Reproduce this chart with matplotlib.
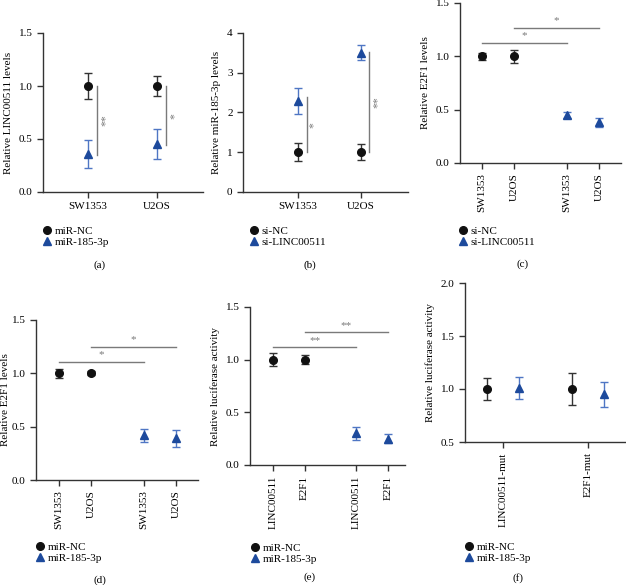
import numpy as np
import matplotlib
matplotlib.use("Agg")
import matplotlib.pyplot as plt
from matplotlib.lines import Line2D

plt.rcParams["font.family"] = ["Liberation Serif", "DejaVu Serif"]

W, H = 626, 585
BLACK = "#111111"
BLUE = "#1d4a9c"
BLUE_ERR = "#4f76c4"
GREY = "#7a7a7a"

# (a) LINC00511 levels
A_CATS = ["SW1353", "U2OS"]
A_NC = [1.0, 1.0]
A_NC_ERR = [0.12, 0.09]
A_MIR = [0.36, 0.45]
A_MIR_ERR = [0.13, 0.14]

# (b) miR-185-3p levels
B_CATS = ["SW1353", "U2OS"]
B_NC = [1.0, 1.0]
B_NC_ERR = [0.23, 0.20]
B_SI = [2.28, 3.50]
B_SI_ERR = [0.33, 0.19]

# (c) E2F1 levels, si
C_CATS = ["SW1353", "U2OS", "SW1353", "U2OS"]
C_NC = [1.0, 1.0]
C_NC_ERR = [0.03, 0.06]
C_SI = [0.45, 0.38]
C_SI_ERR = [0.03, 0.04]

# (d) E2F1 levels, miR
D_CATS = ["SW1353", "U2OS", "SW1353", "U2OS"]
D_NC = [1.0, 1.0]
D_NC_ERR = [0.04, 0.02]
D_MIR = [0.42, 0.39]
D_MIR_ERR = [0.06, 0.08]

# (e) luciferase activity
E_CATS = ["LINC00511", "E2F1", "LINC00511", "E2F1"]
E_NC = [1.0, 1.0]
E_NC_ERR = [0.06, 0.04]
E_MIR = [0.30, 0.25]
E_MIR_ERR = [0.065, 0.04]

# (f) luciferase activity, mutants
F_CATS = ["LINC00511-mut", "E2F1-mut"]
F_NC = [1.0, 1.0]
F_NC_ERR = [0.10, 0.15]
F_MIR = [1.01, 0.95]
F_MIR_ERR = [0.10, 0.12]


def make_ax(fig, left, right, top, bottom):
    ax = fig.add_axes([left / W, 1 - bottom / H, (right - left) / W, (bottom - top) / H])
    ax.spines["top"].set_visible(False)
    ax.spines["right"].set_visible(False)
    for s in ("left", "bottom"):
        ax.spines[s].set_linewidth(1.0)
        ax.spines[s].set_color("#333333")
    ax.tick_params(labelsize=8, width=1.0, length=4, color="#333333")
    return ax


def pts(ax, x, y, err, kind):
    if kind == "nc":
        ax.errorbar(x, y, yerr=err, fmt="o", color=BLACK, ecolor="#333333",
                    markersize=5.5, capsize=3, elinewidth=1, capthick=1, zorder=3)
    else:
        ax.errorbar(x, y, yerr=err, fmt="^", color=BLUE, ecolor=BLUE_ERR,
                    markersize=5.5, capsize=3, elinewidth=1, capthick=1, zorder=3)


def legend(fig, x, y, labels):
    handles = [Line2D([], [], marker="o", color=BLACK, ls="none", markersize=5.5),
               Line2D([], [], marker="^", color=BLUE, ls="none", markersize=5.5)]
    fig.legend(handles, labels, loc="upper left", bbox_to_anchor=(x / W, 1 - y / H),
               frameon=False, fontsize=8, handletextpad=0.1, labelspacing=0.15,
               borderpad=0, borderaxespad=0, handlelength=1.2)


def hbar(ax, x0, x1, y, star, dy):
    ax.plot([x0, x1], [y, y], color=GREY, lw=1)
    ax.text((x0 + x1) / 2, y + dy, star, ha="center", va="center", color=GREY, fontsize=8)


def vbar(ax, x, y0, y1, star, dx):
    ax.plot([x, x], [y0, y1], color=GREY, lw=1)
    ax.text(x + dx, (y0 + y1) / 2, star, ha="center", va="center", color=GREY,
            fontsize=8.5, rotation=90)


fig = plt.figure(figsize=(W / 100, H / 100), dpi=100)

# (a)
ax = make_ax(fig, 43, 203, 33, 192)
x = np.arange(len(A_CATS))
pts(ax, x, A_NC, A_NC_ERR, "nc")
pts(ax, x, A_MIR, A_MIR_ERR, "mir")
vbar(ax, 0.13, 0.35, 1.0, "**", 0.13)
vbar(ax, 1.13, 0.44, 1.0, "*", 0.13)
ax.set_xlim(-0.65, 1.67)
ax.set_ylim(0, 1.5)
ax.set_yticks([0, 0.5, 1.0, 1.5])
ax.set_xticks(x)
ax.set_xticklabels(A_CATS)
ax.set_ylabel("Relative LINC00511 levels", fontsize=8, labelpad=4)
legend(fig, 40, 226, ["miR-NC", "miR-185-3p"])
fig.text(100 / W, 1 - 265 / H, "(a)", ha="center", va="center", fontsize=8)

# (b)
ax = make_ax(fig, 243, 408, 33, 192)
x = np.arange(len(B_CATS))
pts(ax, x, B_NC, B_NC_ERR, "nc")
pts(ax, x, B_SI, B_SI_ERR, "mir")
vbar(ax, 0.14, 1.0, 2.38, "*", 0.12)
vbar(ax, 1.13, 1.0, 3.52, "**", 0.14)
ax.set_xlim(-0.87, 1.75)
ax.set_ylim(0, 4)
ax.set_yticks([0, 1, 2, 3, 4])
ax.set_xticks(x)
ax.set_xticklabels(B_CATS)
ax.set_ylabel("Relative miR-185-3p levels", fontsize=8, labelpad=4)
legend(fig, 247, 226, ["si-NC", "si-LINC00511"])
fig.text(310 / W, 1 - 265 / H, "(b)", ha="center", va="center", fontsize=8)

# (c)
ax = make_ax(fig, 460, 621, 3, 163)
xp = [0, 1, 2.65, 3.65]
pts(ax, xp[:2], C_NC, C_NC_ERR, "nc")
pts(ax, xp[2:], C_SI, C_SI_ERR, "mir")
hbar(ax, xp[0], xp[2], 1.125, "*", 0.07)
hbar(ax, xp[1], xp[3], 1.265, "*", 0.07)
ax.set_xlim(-0.69, 4.34)
ax.set_ylim(0, 1.5)
ax.set_yticks([0, 0.5, 1.0, 1.5])
ax.set_xticks(xp)
ax.set_xticklabels(C_CATS, rotation=90)
ax.set_ylabel("Relative E2F1 levels", fontsize=8, labelpad=4)
legend(fig, 456, 226, ["si-NC", "si-LINC00511"])
fig.text(523 / W, 1 - 264 / H, "(c)", ha="center", va="center", fontsize=8)

# (d)
ax = make_ax(fig, 36, 198, 320, 480)
pts(ax, xp[:2], D_NC, D_NC_ERR, "nc")
pts(ax, xp[2:], D_MIR, D_MIR_ERR, "mir")
hbar(ax, xp[0], xp[2], 1.105, "*", 0.07)
hbar(ax, xp[1], xp[3], 1.25, "*", 0.07)
ax.set_xlim(-0.72, 4.34)
ax.set_ylim(0, 1.5)
ax.set_yticks([0, 0.5, 1.0, 1.5])
ax.set_xticks(xp)
ax.set_xticklabels(D_CATS, rotation=90)
ax.set_ylabel("Relative E2F1 levels", fontsize=8, labelpad=1)
legend(fig, 33, 542, ["miR-NC", "miR-185-3p"])
fig.text(100 / W, 1 - 580 / H, "(d)", ha="center", va="center", fontsize=8)

# (e)
ax = make_ax(fig, 250, 405, 307, 465)
pts(ax, xp[:2], E_NC, E_NC_ERR, "nc")
pts(ax, xp[2:], E_MIR, E_MIR_ERR, "mir")
hbar(ax, xp[0], xp[2], 1.12, "**", 0.06)
hbar(ax, xp[1], xp[3], 1.26, "**", 0.06)
ax.set_xlim(-0.73, 4.19)
ax.set_ylim(0, 1.5)
ax.set_yticks([0, 0.5, 1.0, 1.5])
ax.set_xticks(xp)
ax.set_xticklabels(E_CATS, rotation=90)
ax.set_ylabel("Relative luciferase activity", fontsize=8, labelpad=4)
legend(fig, 248, 543, ["miR-NC", "miR-185-3p"])
fig.text(310 / W, 1 - 577 / H, "(e)", ha="center", va="center", fontsize=8)

# (f)
ax = make_ax(fig, 465, 626, 283, 442)
x = np.arange(len(F_CATS))
pts(ax, x - 0.19, F_NC, F_NC_ERR, "nc")
pts(ax, x + 0.19, F_MIR, F_MIR_ERR, "mir")
ax.set_xlim(-0.45, 1.45)
ax.set_ylim(0.5, 2.0)
ax.set_yticks([0.5, 1.0, 1.5, 2.0])
ax.set_xticks(x)
ax.set_xticklabels(F_CATS, rotation=90)
ax.set_ylabel("Relative luciferase activity", fontsize=8, labelpad=4)
legend(fig, 462, 542, ["miR-NC", "miR-185-3p"])
fig.text(518 / W, 1 - 578 / H, "(f)", ha="center", va="center", fontsize=8)

fig.savefig("out.png", dpi=100)
